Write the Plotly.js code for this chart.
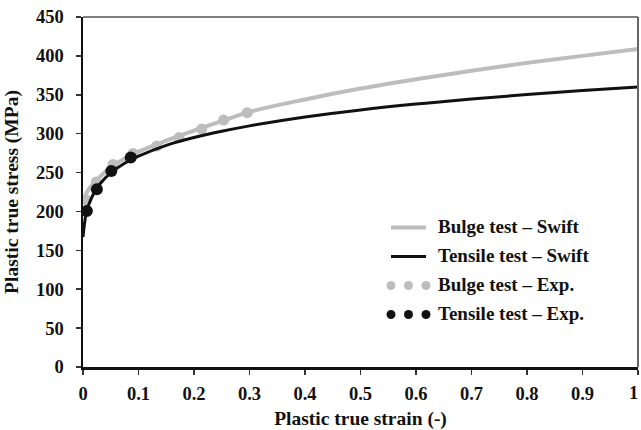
<!DOCTYPE html>
<html>
<head>
<meta charset="utf-8">
<script src="https://cdn.plot.ly/plotly-3.0.1.min.js"></script>
<style>html,body{margin:0;padding:0;background:#fff;}#chart{width:641px;height:430px;}</style>
</head>
<body>
<div id="chart"></div>
<script>
// Swift curves
const swiftStrain = [0, 0.005, 0.01, 0.02, 0.03, 0.05, 0.075, 0.1, 0.15, 0.2, 0.25, 0.3, 0.4, 0.5, 0.6, 0.7, 0.8, 0.9, 1.0];
const bulgeSwift  = [214, 222, 228, 237, 244, 257, 268, 277, 291, 304, 316, 328, 344, 358, 370, 381, 391, 400, 409];
const tensileSwift= [167, 195, 208, 224, 235, 249.5, 262, 271, 285, 295, 303, 310, 321.5, 330.5, 338, 344.5, 350.3, 355.4, 360];

const bulgeExpStrain = [0.006, 0.024, 0.054, 0.090, 0.133, 0.173, 0.214, 0.2535, 0.296];
const bulgeExpStress = [215, 238, 260.5, 274.5, 284, 295, 306, 317.5, 327];
const tensileExpStrain = [0.007, 0.025, 0.051, 0.086];
const tensileExpStress = [200.5, 228.5, 252, 269.5];

// Tick labels (the last x label is drawn right-aligned so it stays inside the page)
const xTickVals = [0, 0.1, 0.2, 0.3, 0.4, 0.5, 0.6, 0.7, 0.8, 0.9, 1];
const xTickText = ['0', '0.1', '0.2', '0.3', '0.4', '0.5', '0.6', '0.7', '0.8', '0.9', ''];
const xLastTickVal = 1, xLastTickText = '1';
const yTickVals = [0, 50, 100, 150, 200, 250, 300, 350, 400, 450];

const legendNames = ['Bulge test \u2013 Swift', 'Tensile test \u2013 Swift', 'Bulge test \u2013 Exp.', 'Tensile test \u2013 Exp.'];

const GRAY = '#bdbdbd', BLACK = '#111111';
const FONT = 'Liberation Serif, Times New Roman, serif';

const traces = [
  {x: swiftStrain, y: bulgeSwift, mode: 'lines', line: {color: GRAY, width: 4, shape: 'spline'}, name: legendNames[0], showlegend: false},
  {x: bulgeExpStrain, y: bulgeExpStress, mode: 'markers', marker: {color: GRAY, size: 11}, name: legendNames[2], showlegend: false},
  {x: swiftStrain, y: tensileSwift, mode: 'lines', line: {color: BLACK, width: 3, shape: 'spline'}, name: legendNames[1], showlegend: false},
  {x: tensileExpStrain, y: tensileExpStress, mode: 'markers', marker: {color: BLACK, size: 12}, name: legendNames[3], showlegend: false}
];

// custom legend (paper coords)
const L = 83, T = 17, W = 555, H = 350;
const px = v => (v - L) / W;
const py = v => (T + H - v) / H;
const rowsY = [226.5, 255.5, 284.5, 313.5];
const annotations = legendNames.map((t, i) => ({
  xref: 'paper', yref: 'paper', x: px(436), y: py(rowsY[i]), xanchor: 'left', yanchor: 'middle',
  text: t, showarrow: false, font: {family: FONT, size: 19, color: '#111', weight: 'bold'}
}));
annotations.push({
  xref: 'x', yref: 'paper', x: xLastTickVal, y: 0, xanchor: 'right', yanchor: 'middle',
  xshift: 2, yshift: -26, text: xLastTickText, showarrow: false,
  font: {family: FONT, size: 18.5, color: '#111', weight: 'bold'}
});
const shapes = [
  {type: 'line', xref: 'paper', yref: 'paper', x0: 0, x1: 1, y0: 1, y1: 1, line: {color: '#555', width: 1.5}},
  {type: 'line', xref: 'paper', yref: 'paper', x0: 1, x1: 1, y0: 0, y1: 1, line: {color: '#666', width: 2}},
  {type: 'line', xref: 'paper', yref: 'paper', x0: px(391), x1: px(426), y0: py(rowsY[0] + 1), y1: py(rowsY[0] + 1), line: {color: GRAY, width: 4}},
  {type: 'line', xref: 'paper', yref: 'paper', x0: px(391), x1: px(426), y0: py(rowsY[1] + 1), y1: py(rowsY[1] + 1), line: {color: BLACK, width: 3}}
];
[391, 408.5, 426].forEach(cx => {
  [[2, GRAY], [3, BLACK]].forEach(([r, c]) => {
    shapes.push({type: 'circle', xref: 'paper', yref: 'paper', xsizemode: 'pixel', ysizemode: 'pixel',
      xanchor: px(cx), yanchor: py(rowsY[r] + 1), x0: -4.5, x1: 4.5, y0: -4.5, y1: 4.5,
      fillcolor: c, line: {width: 0}});
  });
});

const layout = {
  width: 641, height: 430,
  margin: {l: L, r: 641 - L - W, t: T, b: 430 - T - H},
  paper_bgcolor: '#fff', plot_bgcolor: '#fff',
  showlegend: false,
  font: {family: FONT, color: '#111'},
  xaxis: {
    range: [0, 1], tickmode: 'array', tickvals: xTickVals, ticktext: xTickText,
    showgrid: false, zeroline: false,
    showline: true, linecolor: '#111', linewidth: 2.5,
    ticks: 'outside', ticklen: 5, tickwidth: 1.5, tickcolor: '#333',
    ticklabelstandoff: 3,
    tickfont: {family: FONT, size: 18.5, weight: 'bold', color: '#111'},
    title: {text: 'Plastic true strain (-)', font: {family: FONT, size: 19.5, weight: 'bold', color: '#111'}, standoff: 15}
  },
  yaxis: {
    range: [0, 450], tickmode: 'array', tickvals: yTickVals,
    showgrid: false, zeroline: false,
    showline: true, linecolor: '#111', linewidth: 2.5,
    ticks: 'outside', ticklen: 5, tickwidth: 1.5, tickcolor: '#333',
    ticklabelstandoff: 8,
    tickfont: {family: FONT, size: 18.5, weight: 'bold', color: '#111'},
    title: {text: 'Plastic true stress (MPa)', font: {family: FONT, size: 19.5, weight: 'bold', color: '#111'}, standoff: 12}
  },
  annotations: annotations,
  shapes: shapes
};

Plotly.newPlot('chart', traces, layout, {displayModeBar: false, staticPlot: true});
</script>
</body>
</html>
